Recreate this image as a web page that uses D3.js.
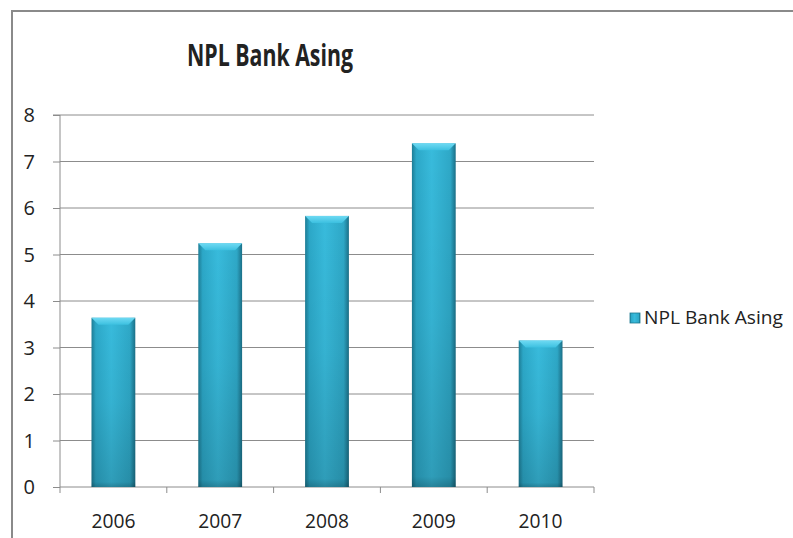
<!DOCTYPE html>
<html>
<head>
<meta charset="utf-8">
<script src="https://cdn.jsdelivr.net/npm/d3@7"></script>
<style>
  html, body { margin: 0; padding: 0; background: #fff; }
  svg { display: block; }
  text { font-family: "Open Sans", "Noto Sans", sans-serif; fill: #222; }
</style>
</head>
<body>
<svg id="chart" width="793" height="538"></svg>
<script>
// chart data
const years = ["2006", "2007", "2008", "2009", "2010"];
const nplValues = [3.64, 5.24, 5.83, 7.39, 3.15];
const yTicks = [0, 1, 2, 3, 4, 5, 6, 7, 8];
const seriesName = "NPL Bank Asing";

const svg = d3.select("#chart");
const margin = { top: 115, right: 199, bottom: 51, left: 60 };
const width = 793, height = 538;

// frame of the chart object
svg.append("rect")
    .attr("x", 12).attr("y", 11)
    .attr("width", 800).attr("height", 540)
    .attr("fill", "#fff")
    .attr("stroke", "#8a8a8a")
    .attr("stroke-width", 2);

const x = d3.scaleBand()
    .domain(years)
    .range([margin.left, width - margin.right]);

const y = d3.scaleLinear()
    .domain([0, 8])
    .range([height - margin.bottom, margin.top]);

// gradients for the bevelled bars
const defs = svg.append("defs");
const side = defs.append("linearGradient").attr("id", "barSide")
    .attr("x1", "0").attr("x2", "1").attr("y1", "0").attr("y2", "0");
side.append("stop").attr("offset", "0").attr("stop-color", "#1d7d96");
side.append("stop").attr("offset", "0.1").attr("stop-color", "#2ca8c8");
side.append("stop").attr("offset", "0.45").attr("stop-color", "#38bbdc");
side.append("stop").attr("offset", "0.88").attr("stop-color", "#2ea8c7");
side.append("stop").attr("offset", "1").attr("stop-color", "#1b7088");

const shade = defs.append("linearGradient").attr("id", "barShade")
    .attr("x1", "0").attr("x2", "0").attr("y1", "0").attr("y2", "1");
shade.append("stop").attr("offset", "0").attr("stop-color", "#000").attr("stop-opacity", 0);
shade.append("stop").attr("offset", "0.5").attr("stop-color", "#000").attr("stop-opacity", 0.05);
shade.append("stop").attr("offset", "0.97").attr("stop-color", "#000").attr("stop-opacity", 0.16);
shade.append("stop").attr("offset", "1").attr("stop-color", "#000").attr("stop-opacity", 0.3);

const topGrad = defs.append("linearGradient").attr("id", "barTop")
    .attr("x1", "0").attr("x2", "0").attr("y1", "0").attr("y2", "1");
topGrad.append("stop").attr("offset", "0").attr("stop-color", "#6fdaf3");
topGrad.append("stop").attr("offset", "1").attr("stop-color", "#3cc0e0");

// gridlines
svg.append("g")
    .selectAll("line")
    .data(yTicks.filter(d => d > 0))
    .join("line")
    .attr("x1", margin.left).attr("x2", width - margin.right)
    .attr("y1", d => y(d)).attr("y2", d => y(d))
    .attr("stroke", "#8c8c8c").attr("stroke-width", 1);

// y axis
const yAxis = svg.append("g")
    .attr("transform", `translate(${margin.left},0)`)
    .call(d3.axisLeft(y).tickValues(yTicks).tickSize(7).tickPadding(18).tickFormat(d3.format("d")));
yAxis.selectAll("line, path").attr("stroke", "#8c8c8c");
yAxis.select(".domain").attr("d", `M-7,${y(8)}H0V${y(0)}`);
yAxis.selectAll("text")
    .style("font-size", "20px")
    .attr("fill", "#333")
    .attr("dy", "0.34em");

// x axis
const xAxis = svg.append("g")
    .attr("transform", `translate(0,${y(0)})`)
    .call(d3.axisBottom(x).tickSize(0).tickPadding(27));
xAxis.select(".domain").attr("stroke", "#8c8c8c").attr("d", `M${margin.left},0H${width - margin.right}`);
xAxis.selectAll("text").style("font-size", "20px").attr("fill", "#333")
    .attr("textLength", 44).attr("lengthAdjust", "spacingAndGlyphs");
svg.append("g")
    .selectAll("line")
    .data(years.concat(["end"]))
    .join("line")
    .attr("x1", (d, i) => margin.left + i * x.step())
    .attr("x2", (d, i) => margin.left + i * x.step())
    .attr("y1", y(0)).attr("y2", y(0) + 6)
    .attr("stroke", "#8c8c8c");

// bars
const barW = x.bandwidth() * 0.41;
const bars = svg.append("g")
    .selectAll("g")
    .data(years.map((yr, i) => ({ year: yr, value: nplValues[i] })))
    .join("g")
    .attr("transform", d => `translate(${x(d.year) + (x.bandwidth() - barW) / 2},0)`);

bars.append("rect")
    .attr("x", 0).attr("y", d => y(d.value))
    .attr("width", barW).attr("height", d => y(0) - y(d.value))
    .attr("fill", "url(#barSide)");
bars.append("rect")
    .attr("x", 0).attr("y", d => y(d.value))
    .attr("width", barW).attr("height", d => y(0) - y(d.value))
    .attr("fill", "url(#barShade)");
// top bevel
bars.append("path")
    .attr("d", d => {
        const t = y(d.value), b = 7;
        return `M0,${t}H${barW}L${barW - b},${t + b}H${b}Z`;
    })
    .attr("fill", "url(#barTop)");

// title
svg.append("text")
    .attr("x", 270).attr("y", 66)
    .attr("text-anchor", "middle")
    .attr("textLength", 166).attr("lengthAdjust", "spacingAndGlyphs")
    .style("font-size", "31px").style("font-weight", "bold")
    .attr("fill", "#000")
    .text(seriesName);

// legend
const legend = svg.append("g").attr("transform", "translate(630,313)");
legend.append("rect")
    .attr("width", 10).attr("height", 10)
    .attr("fill", "url(#barSide)")
    .attr("stroke", "#1c7890").attr("stroke-width", 0.8);
legend.append("text")
    .attr("x", 14).attr("y", 5).attr("dy", "0.36em")
    .attr("textLength", 139).attr("lengthAdjust", "spacingAndGlyphs")
    .style("font-size", "18px")
    .attr("fill", "#333")
    .text(seriesName);
</script>
</body>
</html>
